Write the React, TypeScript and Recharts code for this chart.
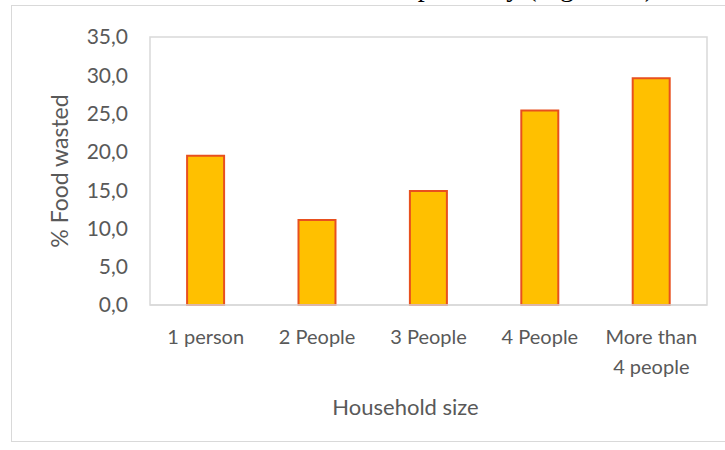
import React from 'react';
import { BarChart, Bar, XAxis, YAxis, ReferenceArea } from 'recharts';

const householdSizes = ['1 person', '2 People', '3 People', '4 People', 'More than\n4 people'];
const foodWasted = [19.5, 11.1, 14.9, 25.4, 29.6];
const yTicks = [0, 5, 10, 15, 20, 25, 30, 35];

const data = householdSizes.map((size, i) => ({ size, wasted: foodWasted[i] }));

const FONT = 'Lato, "Open Sans", sans-serif';
const GREY = '#595959';

const fmt = (v: number) => v.toFixed(1).replace('.', ',');

const XTick = (props: any) => {
    const { x, y, payload } = props;
    const lines = String(payload.value).split('\n');
    return (
        <text x={x} y={y} textAnchor="middle" fill={GREY} fontSize={20} fontFamily={FONT}>
            {lines.map((line, i) => (
                <tspan key={i} x={x} dy={i === 0 ? 31 : 30}>{line}</tspan>
            ))}
        </text>
    );
};

export default function App() {
    return (
        <div style={{ position: 'absolute', left: 0, top: 0, width: 725, height: 450, overflow: 'hidden', background: '#fff' }}>
            {/* leftover line of the surrounding text, cut off at the top */}
            <div style={{ position: 'absolute', left: 0, top: 0, width: 725, height: 5, overflow: 'hidden' }}>
                <div style={{ position: 'absolute', left: 385, top: -27, whiteSpace: 'nowrap', fontFamily: '"Liberation Serif", serif', fontSize: 28, lineHeight: '28px', color: '#000' }}>
                    respectively (Figure 10)
                </div>
            </div>
            <div style={{ position: 'absolute', left: 11, top: 5, width: 730, height: 435, border: '1px solid #d9d9d9' }} />
            <div style={{ position: 'absolute', left: 0, top: 0 }}>
                <BarChart
                    width={725}
                    height={450}
                    data={data}
                    margin={{ top: 37, right: 18, bottom: 30, left: 50 }}
                    barCategoryGap="33.3%"
                >
                    <ReferenceArea y1={0} y2={35} fill="none" stroke="#d9d9d9" strokeWidth={1.5} />
                    <XAxis
                        dataKey="size"
                        height={115}
                        axisLine={{ stroke: '#d9d9d9', strokeWidth: 1.5 }}
                        tickLine={false}
                        tick={<XTick />}
                        interval={0}
                        label={{ value: 'Household size', position: 'insideBottom', offset: 5, dx: -23, fill: GREY, fontSize: 22, fontFamily: FONT }}
                    />
                    <YAxis
                        width={100}
                        domain={[0, 35]}
                        ticks={yTicks}
                        tickFormatter={fmt}
                        axisLine={false}
                        tickLine={false}
                        tickMargin={16}
                        tick={{ fill: GREY, fontSize: 21, fontFamily: FONT }}
                        label={{ value: '% Food wasted', angle: -90, position: 'insideLeft', offset: 10, textAnchor: 'middle', fill: GREY, fontSize: 23, fontFamily: FONT }}
                    />
                    <Bar dataKey="wasted" fill="#FFC000" stroke="#E8501E" strokeWidth={2} isAnimationActive={false} />
                </BarChart>
            </div>
        </div>
    );
}
